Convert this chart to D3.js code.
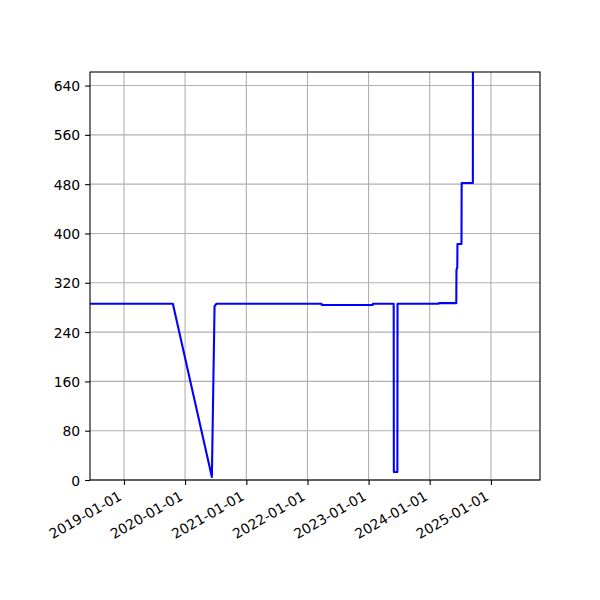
<!DOCTYPE html>
<html>
<head>
<meta charset="utf-8">
<script src="https://cdn.jsdelivr.net/npm/d3@7"></script>
<style>
  body { margin: 0; background: #fff; }
  svg text { font-family: "DejaVu Sans", sans-serif; font-size: 13.9px; fill: #000; }
</style>
</head>
<body>
<div id="chart"></div>
<script>
// data (step-like series)
var dates = [
  "2018-06-01", "2019-10-20", "2020-06-09", "2020-06-25", "2020-07-07",
  "2022-03-26", "2022-03-27", "2023-01-26", "2023-01-27",
  "2023-05-31", "2023-06-01", "2023-06-22", "2023-06-23",
  "2024-02-24", "2024-02-25", "2024-06-08", "2024-06-09", "2024-06-14",
  "2024-06-15", "2024-07-09", "2024-07-10", "2024-09-15", "2024-09-16"
];
var values = [
  286, 286, 5, 282, 286,
  286, 284, 284, 286,
  286, 13, 13, 286,
  286, 287, 287, 341, 345,
  383, 383, 482, 482, 900
];
var xDomain = ["2018-06-12", "2025-10-21"];
var yTicks = [0, 80, 160, 240, 320, 400, 480, 560, 640];
var xTickLabels = ["2019-01-01", "2020-01-01", "2021-01-01", "2022-01-01", "2023-01-01", "2024-01-01", "2025-01-01"];
var yMax = 662;

var svgWidth = 600;
var svgHeight = 600;
var margin = { top: 72, right: 60, bottom: 120, left: 90 };
var width = svgWidth - margin.left - margin.right;
var height = svgHeight - margin.top - margin.bottom;

var parse = d3.utcParse("%Y-%m-%d");
var data = dates.map(function(d, i) { return { date: parse(d), value: values[i] }; });

var svg = d3.select("#chart").append("svg")
  .attr("width", svgWidth)
  .attr("height", svgHeight);

var chartGroup = svg.append("g")
  .attr("transform", `translate(${margin.left}, ${margin.top})`);

var x = d3.scaleUtc().domain(xDomain.map(parse)).range([0, width]);
var y = d3.scaleLinear().domain([0, yMax]).range([height, 0]);

// grid
chartGroup.append("g")
  .selectAll("line")
  .data(xTickLabels)
  .enter().append("line")
  .attr("x1", d => x(parse(d))).attr("x2", d => x(parse(d)))
  .attr("y1", 0).attr("y2", height)
  .attr("stroke", "#b0b0b0").attr("stroke-width", 1.1);

chartGroup.append("g")
  .selectAll("line")
  .data(yTicks)
  .enter().append("line")
  .attr("x1", 0).attr("x2", width)
  .attr("y1", d => y(d)).attr("y2", d => y(d))
  .attr("stroke", "#b0b0b0").attr("stroke-width", 1.1);

// line, clipped to axes
svg.append("defs").append("clipPath").attr("id", "clip")
  .append("rect").attr("width", width).attr("height", height);

var line = d3.line().x(d => x(d.date)).y(d => y(d.value));

chartGroup.append("path")
  .datum(data)
  .attr("clip-path", "url(#clip)")
  .attr("fill", "none")
  .attr("stroke", "blue")
  .attr("stroke-width", 2.08)
  .attr("stroke-linejoin", "round")
  .attr("d", line);

// axes
var bottomAxis = d3.axisBottom(x)
  .tickValues(xTickLabels.map(parse))
  .tickFormat(d3.utcFormat("%Y-%m-%d"))
  .tickSizeInner(4.9).tickSizeOuter(0).tickPadding(4.9);
var leftAxis = d3.axisLeft(y)
  .tickValues(yTicks)
  .tickSizeInner(4.9).tickSizeOuter(0).tickPadding(4.9);

var xAxis = chartGroup.append("g")
  .attr("transform", `translate(0, ${height})`)
  .call(bottomAxis);
xAxis.selectAll("text")
  .attr("text-anchor", "end")
  .attr("dy", null)
  .attr("y", null)
  .attr("transform", "translate(-1.7, 19) rotate(-30)");

var yAxis = chartGroup.append("g").call(leftAxis);
yAxis.selectAll("text").attr("dy", "0.36em");

[xAxis, yAxis].forEach(function(a) {
  a.select(".domain").remove();
  a.selectAll("line").attr("stroke", "#000").attr("stroke-width", 1.1);
  a.selectAll("text").style("font-size", "13.9px").attr("fill", "#000");
});

// frame
chartGroup.append("rect")
  .attr("width", width).attr("height", height)
  .attr("fill", "none").attr("stroke", "#000").attr("stroke-width", 1.1);
</script>
</body>
</html>
